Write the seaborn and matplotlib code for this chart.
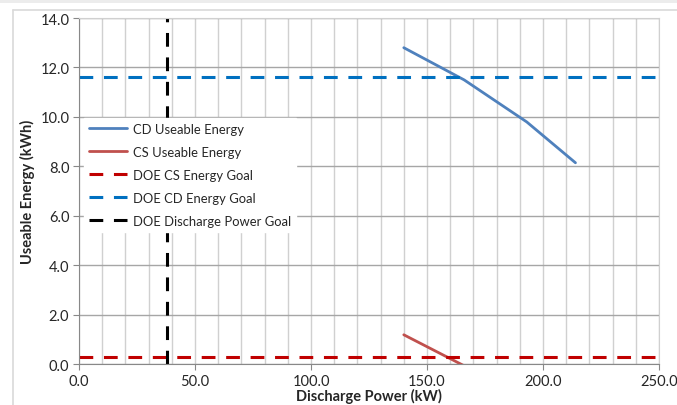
import pandas as pd
import seaborn as sns
import matplotlib.pyplot as plt
from matplotlib.ticker import MultipleLocator, FormatStrFormatter

cd_power = [140, 166, 193, 214]
cd_energy = [12.8, 11.5, 9.8, 8.15]
cs_power = [140, 167]
cs_energy = [1.2, -0.1]

# DOE goals
doe_cs_energy_goal = 0.3
doe_cd_energy_goal = 11.6
doe_discharge_power_goal = 38

sns.set_style("white")
plt.rcParams['font.family'] = ['Lato', 'DejaVu Sans']

cd_df = pd.DataFrame({'power': cd_power, 'energy': cd_energy})
cs_df = pd.DataFrame({'power': cs_power, 'energy': cs_energy})

fig = plt.figure(figsize=(6.77, 4.06), dpi=100)
ax = fig.add_axes([0.1167, 0.0998, 0.8567, 0.8534])

# screenshot frame
fig.add_artist(plt.Rectangle((0, 0.99), 1, 0.01, transform=fig.transFigure,
                             color='#ececec', lw=0))
fig.add_artist(plt.Line2D([13 / 677, 1], [1 - 11 / 406, 1 - 11 / 406],
                          transform=fig.transFigure, color='#d9d9d9', lw=1.2))
fig.add_artist(plt.Line2D([13 / 677, 13 / 677], [0, 1 - 11 / 406],
                          transform=fig.transFigure, color='#d9d9d9', lw=1.2))

sns.lineplot(data=cd_df, x='power', y='energy', ax=ax, color='#4F81BD',
             lw=2, label='CD Useable Energy')
sns.lineplot(data=cs_df, x='power', y='energy', ax=ax, color='#C0504D',
             lw=2, label='CS Useable Energy')
ax.axhline(doe_cs_energy_goal, color='#C00000', lw=2.2, dashes=(4.5, 3.5),
           label='DOE CS Energy Goal')
ax.axhline(doe_cd_energy_goal, color='#0070C0', lw=2.2, dashes=(4.5, 3.5),
           label='DOE CD Energy Goal')
ax.axvline(doe_discharge_power_goal, color='black', lw=2.2, dashes=(4.5, 3.5),
           label='DOE Discharge Power Goal')

ax.set_xlim(0, 250)
ax.set_ylim(0, 14)
ax.xaxis.set_major_locator(MultipleLocator(50))
ax.xaxis.set_minor_locator(MultipleLocator(10))
ax.yaxis.set_major_locator(MultipleLocator(2))
ax.xaxis.set_major_formatter(FormatStrFormatter('%.1f'))
ax.yaxis.set_major_formatter(FormatStrFormatter('%.1f'))
ax.grid(which='minor', axis='x', color='#d0d0d0', lw=1)
ax.grid(which='major', axis='x', color='#d0d0d0', lw=1)
ax.grid(which='major', axis='y', color='#a6a6a6', lw=1)
ax.set_axisbelow(True)
ax.tick_params(axis='both', which='major', length=4, color='#888888',
               labelsize=10.5, direction='out', bottom=True, left=True, pad=3)
ax.tick_params(axis='x', which='minor', length=0)
for side in ['top', 'right']:
    ax.spines[side].set_color('#d0d0d0')
for side in ['left', 'bottom']:
    ax.spines[side].set_color('#888888')

ax.set_xlabel('Discharge Power (kW)', fontsize=10.5, fontweight='bold', labelpad=0)
ax.set_ylabel('Useable Energy (kWh)', fontsize=10.5, fontweight='bold', labelpad=4)

leg = ax.legend(loc='upper left', bbox_to_anchor=(0.009, 0.712), fontsize=9.4,
                handlelength=2.9, handletextpad=0.4, labelspacing=0.84,
                borderaxespad=0, borderpad=0.4, frameon=True, fancybox=False,
                framealpha=1, edgecolor='white')

fig.savefig('out.png', dpi=100)
